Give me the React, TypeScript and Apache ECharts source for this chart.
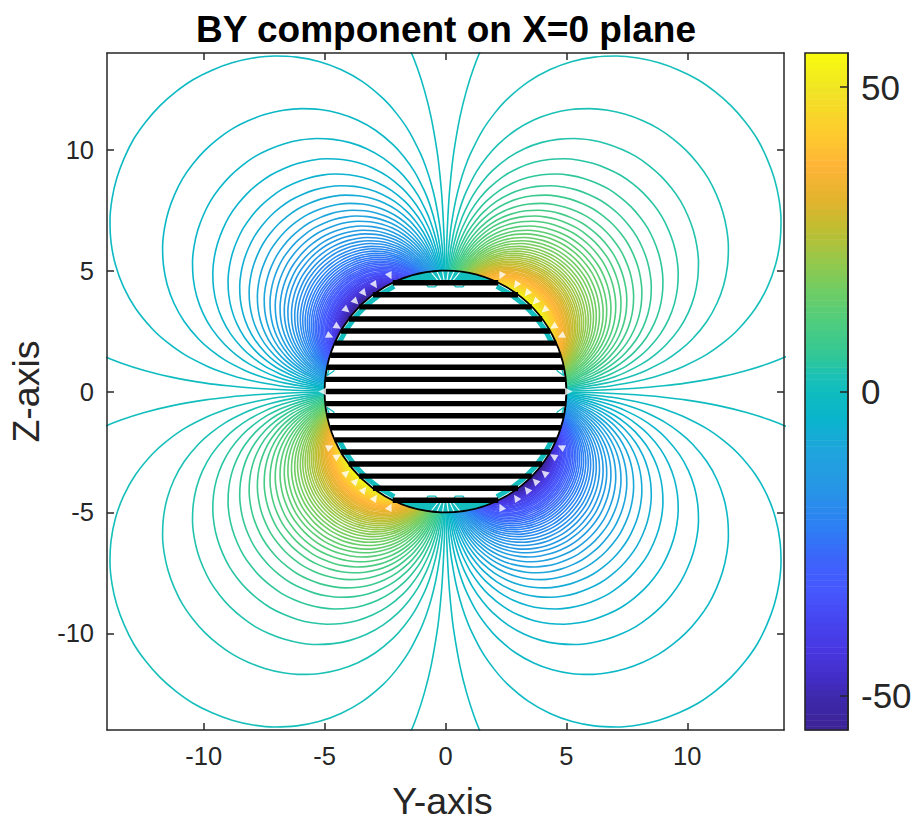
import React, { useEffect, useRef } from "react";
import * as echarts from "echarts";

// All values are estimates read from the picture. Outer contours were measured from
// their peaks; the densest ones, too close together to separate, follow the same spacing.
const contourLevels = [
  0.5, 1.5, 2.5, 3.5, 4.5, 5.5, 6.5, 7.5, 8.5, 9.5, 10.5, 11.5, 12.5, 13.5,
  14.5, 15.5, 16.5, 17.5, 18.5, 19.5, 20.5, 21.5, 22.5, 23.5, 24.5, 25.5, 26.5,
  27.5, 28.5, 29.5, 30.5, 31.5, 32.5, 33.5, 34.5, 35.5, 36.5, 37.5, 38.5, 39.5,
  40.5, 41.5, 42.5, 43.5, 44.5, 45.5, 46.5, 47.5, 48.5, 49.5, 50.5, 51.5, 52.5,
  53.5, 54.5, 55.5,
];
// Distance from the origin along the diagonal, per level.
const contourReach = [
  24.1, 16.71, 14.09, 12.6, 11.59, 10.83, 10.25, 9.78, 9.37, 9.03, 8.74, 8.48,
  8.24, 8.03, 7.85, 7.67, 7.51, 7.37, 7.23, 7.11, 6.99, 6.88, 6.78, 6.68, 6.59,
  6.5, 6.42, 6.34, 6.26, 6.19, 6.12, 6.06, 5.99, 5.93, 5.88, 5.82, 5.77, 5.72,
  5.66, 5.62, 5.57, 5.53, 5.48, 5.44, 5.4, 5.36, 5.32, 5.28, 5.25, 5.21, 5.18,
  5.14, 5.11, 5.08, 5.05, 5.02,
];
// Lobe outline: angle from the horizontal axis (degrees) and relative radius.
const lobeAngles = [0.1, 0.25, 0.5, 1, 1.5, 2, 3, 4, 5, 6, 8, 10, 12, 15, 18, 21, 24, 27, 30, 33, 36, 39, 42, 45];
const lobeRadii = [
  0.152, 0.206, 0.259, 0.327, 0.374, 0.412, 0.471, 0.518, 0.558, 0.592, 0.651,
  0.699, 0.741, 0.794, 0.838, 0.875, 0.906, 0.932, 0.953, 0.97, 0.983, 0.993,
  0.998, 1,
];
const stripeHeights = [4.5, 4, 3.5, 3, 2.5, 2, 1.5, 1, 0.5, 0, -0.5, -1, -1.5, -2, -2.5, -3, -3.5, -4, -4.5];
const stripeHalfWidths = [2.18, 3, 3.57, 4, 4.33, 4.58, 4.77, 4.9, 4.97, 5, 4.97, 4.9, 4.77, 4.58, 4.33, 4, 3.57, 3, 2.18];
// One quadrant of the white arrowheads on the sphere edge.
const arrowY = [2.3, 2.92, 3.37, 3.71, 4.09, 4.46, 4.78];
const arrowZ = [4.78, 4.4, 4.06, 3.71, 3.37, 2.68, 2.3];
const apexArrowY = [-5.1, 5.1];
const capFanX = [-0.62, -0.36, -0.12, 0.12, 0.36, 0.62];
const rimArcDegrees = [24, 32, 40, 48, 56, 64];
const archOutline: number[][] = [[0.8, 4.45], [0.72, 4.33], [0.42, 4.33], [0.32, 4.45]];
const curlOutline: number[][] = [[4.9, 0.65], [4.62, 0.85], [4.58, 1.05], [4.8, 0.95], [4.9, 0.65]];
const colorStops: number[][] = [
  [-55.6, 60, 35, 150], [-50.5, 62, 40, 170], [-47.5, 65, 45, 195], [-42.5, 72, 55, 225],
  [-37.5, 70, 70, 240], [-32.5, 70, 88, 255], [-27.5, 60, 100, 250], [-22.5, 45, 125, 245],
  [-16, 40, 150, 230], [-9.5, 30, 165, 220], [-4.7, 10, 180, 205], [0, 15, 189, 190],
  [2, 25, 192, 185], [6, 50, 200, 150], [11.7, 80, 205, 125], [16.5, 110, 205, 100],
  [21.5, 150, 200, 75], [26.5, 190, 190, 50], [31.4, 225, 180, 45], [37, 255, 180, 55],
  [43, 253, 205, 45], [50, 240, 230, 35], [55.6, 249, 251, 14],
];
const colorbarTicks = [-50, 0, 50];
const axisTicks = [-10, -5, 0, 5, 10];
const sphereRadius = 5;

const ink = "#262626";
const font = "Liberation Sans";

function colorOf(v: number) {
  let i = 0;
  while (i < colorStops.length - 2 && v > colorStops[i + 1][0]) i++;
  const a = colorStops[i];
  const b = colorStops[i + 1];
  const t = Math.max(0, Math.min(1, (v - a[0]) / (b[0] - a[0])));
  const c = [1, 2, 3].map((k) => Math.round(a[k] + (b[k] - a[k]) * t));
  return `rgb(${c[0]},${c[1]},${c[2]})`;
}

const quadrants = [[1, 1], [-1, 1], [-1, -1], [1, -1]];
const teal = "rgb(20,190,190)";

function buildOption() {
  const series: any[] = [];
  const base = { xAxisIndex: 0, yAxisIndex: 0, silent: true };

  contourLevels.forEach((level, i) => {
    quadrants.forEach(([sy, sz]) => {
      const angles = [...lobeAngles.map((a, k) => [a, lobeRadii[k]]), ...lobeAngles.slice(0, -1).reverse().map((a) => [90 - a, lobeRadii[lobeAngles.indexOf(a)]])];
      const data = angles.map(([a, rel]) => {
        const r = contourReach[i] * rel;
        const t = (a * Math.PI) / 180;
        return [sy * r * Math.cos(t), sz * r * Math.sin(t)];
      });
      series.push({
        ...base, type: "line", data, smooth: 0.25, showSymbol: false, z: 2,
        lineStyle: { color: colorOf(sy * sz * level), width: 1.6 },
      });
    });
  });

  // Sphere interior cover
  series.push({
    ...base, type: "custom", z: 3, data: [[0, 0]], clip: true,
    renderItem: (_p: any, api: any) => {
      const c = api.coord([0, 0]);
      const r = api.size([sphereRadius, 0])[0];
      return { type: "circle", shape: { cx: c[0], cy: c[1], r }, style: { fill: "#fff" } };
    },
  });

  // Caps of the sphere above and below the stripes, with the contour fan in them
  [1, -1].forEach((s) => {
    const chord = stripeHalfWidths[0];
    const z0 = stripeHeights[0];
    series.push({
      ...base, type: "custom", z: 4, data: [[0, s]],
      renderItem: (_p: any, api: any) => {
        const points: number[][] = [];
        const a0 = Math.atan2(z0, chord);
        for (let k = 0; k <= 16; k++) {
          const t = a0 + ((Math.PI - 2 * a0) * k) / 16;
          points.push(api.coord([sphereRadius * Math.cos(t), s * sphereRadius * Math.sin(t)]));
        }
        return { type: "polygon", shape: { points }, style: { fill: teal } };
      },
    });
    capFanX.forEach((x) => {
      series.push({
        ...base, type: "line", z: 5, showSymbol: false,
        data: [[x * 0.45, s * 4.55], [x, s * 4.98]],
        lineStyle: { color: "#fff", width: 1.1 },
      });
    });
  });

  // Teal rims and small arches inside the sphere
  quadrants.forEach(([sy, sz]) => {
    series.push({
      ...base, type: "line", z: 4, showSymbol: false,
      data: rimArcDegrees.map((d) => {
        const t = (d * Math.PI) / 180;
        return [sy * 4.84 * Math.cos(t), sz * 4.84 * Math.sin(t)];
      }),
      lineStyle: { color: teal, width: 5 },
    });
    series.push({
      ...base, type: "line", z: 4, showSymbol: false,
      data: archOutline.map(([y, z]) => [sy * y, sz * z]),
      lineStyle: { color: teal, width: 1.3 },
    });
    series.push({
      ...base, type: "line", z: 4, showSymbol: false,
      data: curlOutline.map(([y, z]) => [sy * y, sz * z]),
      lineStyle: { color: teal, width: 1.3 },
    });
  });

  stripeHeights.forEach((z, i) => {
    series.push({
      ...base, type: "line", z: 6, showSymbol: false,
      data: [[-stripeHalfWidths[i], z], [stripeHalfWidths[i], z]],
      lineStyle: { color: "#000", width: 5.4, cap: "butt" },
    });
  });

  // Sphere outline
  series.push({
    ...base, type: "custom", z: 7, data: [[0, 0]],
    renderItem: (_p: any, api: any) => {
      const c = api.coord([0, 0]);
      const r = api.size([sphereRadius, 0])[0];
      return { type: "circle", shape: { cx: c[0], cy: c[1], r }, style: { fill: "none", stroke: "#000", lineWidth: 1.8 } };
    },
  });

  // White arrowheads
  const arrows: any[] = [];
  quadrants.forEach(([sy, sz]) => {
    arrowY.forEach((y, k) => {
      const py = sy * y;
      const pz = sz * arrowZ[k];
      const deg = (Math.atan2(pz, py) * 180) / Math.PI + 90;
      arrows.push({ value: [py, pz], symbolRotate: deg });
    });
  });
  apexArrowY.forEach((y) => {
    arrows.push({ value: [y, 0], symbolRotate: y < 0 ? 90 : -90 });
  });
  series.push({
    ...base, type: "scatter", z: 8, data: arrows, symbol: "triangle", symbolSize: 7.5,
    itemStyle: { color: "#fff" },
  });

  // Colour bar bands
  const bands = [...contourLevels.slice().reverse().map((v) => -v), ...contourLevels];
  series.push({
    type: "custom", xAxisIndex: 2, yAxisIndex: 2, silent: true, z: 2, data: bands.map((v) => [0, v]),
    renderItem: (_p: any, api: any) => {
      const v = api.value(1);
      const lo = api.coord([0, Math.max(v - 0.5, -55.6)]);
      const hi = api.coord([1, Math.min(v + 0.5, 55.6)]);
      return {
        type: "rect",
        shape: { x: lo[0], y: hi[1], width: hi[0] - lo[0], height: lo[1] - hi[1] + 0.5 },
        style: { fill: colorOf(v) },
      };
    },
  });

  const spatial = {
    type: "value", min: -14, max: 14, gridIndex: 0, splitLine: { show: false }, z: 20,
    axisLine: { show: true, onZero: false, lineStyle: { color: ink, width: 1.5 } },
    axisTick: { show: true, inside: true, length: 7, customValues: axisTicks, lineStyle: { color: ink, width: 1.5 } },
  };
  const tickLabel = { show: true, customValues: axisTicks, color: ink, fontFamily: font, fontSize: 25.5, margin: 13 };
  const nameStyle = { color: ink, fontFamily: font, fontSize: 37.5 };

  return {
    animation: false,
    backgroundColor: "#fff",
    title: {
      text: "BY component on X=0 plane", left: 441, top: 6, textAlign: "center",
      textStyle: { color: "#000", fontFamily: font, fontWeight: "bold", fontSize: 37 },
    },
    grid: [
      { left: 107, top: 53, width: 677, height: 677, outerBoundsMode: "none" },
      { left: 805, top: 53, width: 43, height: 677, outerBoundsMode: "none" },
    ],
    xAxis: [
      { ...spatial, position: "bottom", axisLabel: tickLabel, name: "Y-axis", nameLocation: "middle", nameGap: 52, nameTextStyle: { ...nameStyle, padding: [0, 6, 0, 0] } },
      { ...spatial, position: "top", axisLabel: { show: false } },
      { type: "value", gridIndex: 1, min: 0, max: 1, show: false },
    ],
    yAxis: [
      { ...spatial, position: "left", axisLabel: tickLabel, name: "Z-axis", nameLocation: "middle", nameGap: 62, nameTextStyle: nameStyle },
      { ...spatial, position: "right", axisLabel: { show: false } },
      {
        type: "value", gridIndex: 1, min: -55.6, max: 55.6, position: "right", splitLine: { show: false }, z: 20,
        axisLine: { show: true, onZero: false, lineStyle: { color: ink, width: 1.6 } },
        axisTick: { show: true, inside: true, length: 8, customValues: colorbarTicks, lineStyle: { color: ink, width: 1.5 } },
        axisLabel: { show: true, customValues: colorbarTicks, color: ink, fontFamily: font, fontSize: 35, margin: 13 },
      },
    ],
    graphic: [
      { type: "rect", z: 50, silent: true, shape: { x: 805, y: 53, width: 43, height: 677 }, style: { fill: "none", stroke: ink, lineWidth: 1.6 } },
    ],
    series,
  };
}

export default function App() {
  const ref = useRef<HTMLDivElement>(null);
  useEffect(() => {
    if (!ref.current) return;
    const chart = echarts.init(ref.current, undefined, { renderer: "svg" });
    chart.setOption(buildOption() as any);
    return () => chart.dispose();
  }, []);
  return <div ref={ref} style={{ position: "absolute", left: 0, top: 0, width: 919, height: 823 }} />;
}
